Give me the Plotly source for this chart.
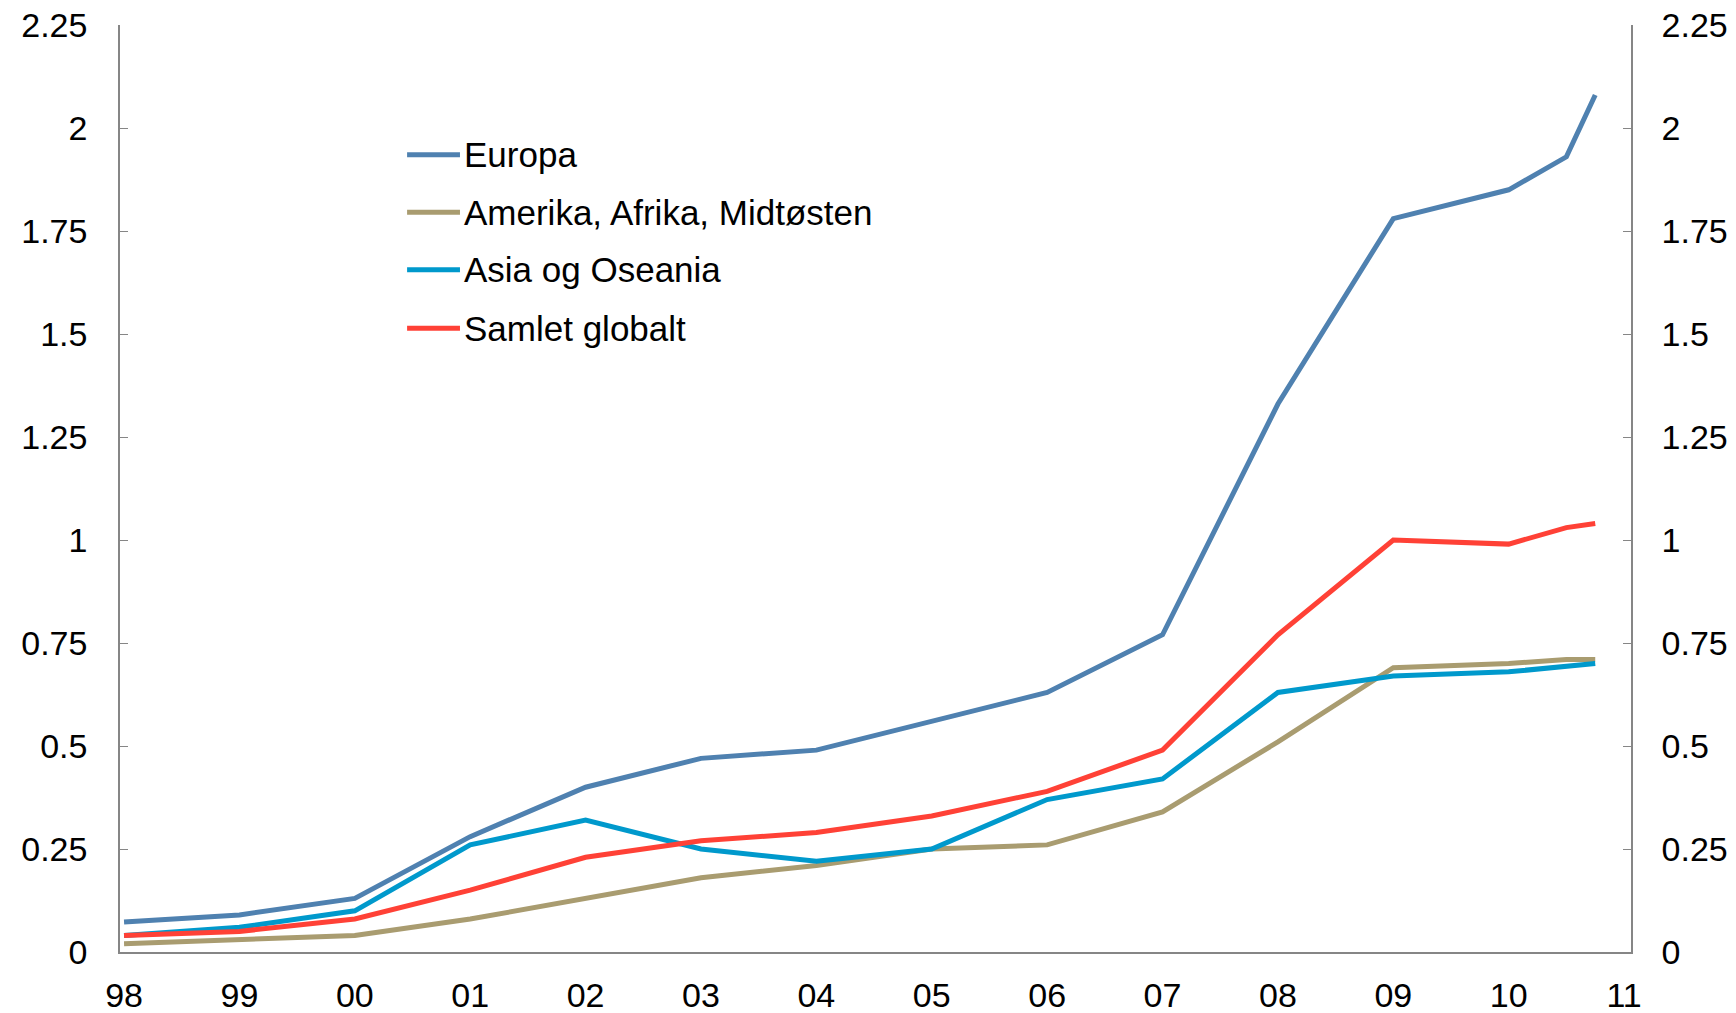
import plotly.graph_objects as go

years = [1998, 1999, 2000, 2001, 2002, 2003, 2004, 2005, 2006, 2007, 2008, 2009, 2010, 2010.5, 2010.75]
europa = [0.073, 0.09, 0.13, 0.28, 0.40, 0.47, 0.49, 0.56, 0.63, 0.77, 1.33, 1.78, 1.85, 1.93, 2.08]
amerika = [0.02, 0.03, 0.04, 0.08, 0.13, 0.18, 0.21, 0.25, 0.26, 0.34, 0.51, 0.69, 0.70, 0.71, 0.71]
asia = [0.04, 0.06, 0.10, 0.26, 0.32, 0.25, 0.22, 0.25, 0.37, 0.42, 0.63, 0.67, 0.68, 0.695, 0.70]
samlet = [0.04, 0.05, 0.08, 0.15, 0.23, 0.27, 0.29, 0.33, 0.39, 0.49, 0.77, 1.00, 0.99, 1.03, 1.04]

names = ["Europa", "Amerika, Afrika, Midtøsten", "Asia og Oseania", "Samlet globalt"]
colors = ["#4F81B0", "#A99C70", "#0099CC", "#FF4136"]
series = [europa, amerika, asia, samlet]

tick_years = list(range(1998, 2012))
tick_labels = ["98", "99", "00", "01", "02", "03", "04", "05", "06", "07", "08", "09", "10", "11"]
y_ticks = [0, 0.25, 0.5, 0.75, 1, 1.25, 1.5, 1.75, 2, 2.25]
y_labels = ["0", "0.25", "0.5", "0.75", "1", "1.25", "1.5", "1.75", "2", "2.25"]

FONT = "Liberation Sans, Arial, sans-serif"

fig = go.Figure()
for name, col, vals in zip(names, colors, series):
    fig.add_trace(go.Scatter(x=years, y=vals, mode="lines", name=name,
                             line=dict(color=col, width=5), showlegend=False))
# invisible trace for right axis
fig.add_trace(go.Scatter(x=[years[0]], y=[0], yaxis="y2", mode="lines",
                         line=dict(width=0), showlegend=False, hoverinfo="skip"))

# manual legend
leg_y = [0.860, 0.798, 0.736, 0.673]
for name, col, yy in zip(names, colors, leg_y):
    fig.add_shape(type="line", xref="paper", yref="paper", x0=0.19, x1=0.225, y0=yy, y1=yy,
                  line=dict(color=col, width=5))
    fig.add_annotation(xref="paper", yref="paper", x=0.2265, y=yy, text=name, showarrow=False,
                       xanchor="left", yanchor="middle", font=dict(family=FONT, size=35, color="black"))

axis_common = dict(showgrid=False, zeroline=False, showline=True, linecolor="#868686",
                   linewidth=1.5, automargin=False)

fig.update_layout(
    width=1736, height=1013,
    margin=dict(l=120, r=105, t=25, b=61),
    paper_bgcolor="white", plot_bgcolor="white",
    font=dict(family=FONT, size=34, color="black"),
    xaxis=dict(range=[1997.965, 2011.06], tickmode="array", tickvals=tick_years, ticktext=tick_labels,
               ticks="", ticklabelstandoff=12, **axis_common),
    yaxis=dict(range=[0, 2.25], tickmode="array", tickvals=y_ticks, ticktext=y_labels,
               ticks="inside", ticklen=8, tickcolor="#868686", ticklabelstandoff=24, **axis_common),
    yaxis2=dict(range=[0, 2.25], tickmode="array", tickvals=y_ticks, ticktext=y_labels,
                overlaying="y", side="right", anchor="x",
                ticks="inside", ticklen=8, tickcolor="#868686", ticklabelstandoff=22, **axis_common),
)

fig.write_html("out.html", config={"displayModeBar": False},
               post_script="document.body.style.margin='0';document.body.style.overflow='hidden';")
